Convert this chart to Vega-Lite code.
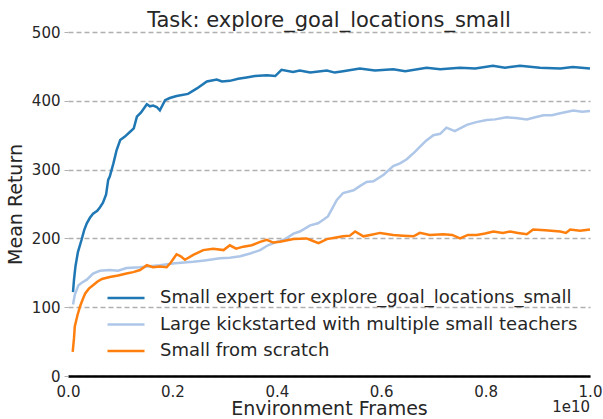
{
  "$schema": "https://vega.github.io/schema/vega-lite/v6.json",
  "width": 522,
  "height": 344,
  "autosize": {"type": "none"},
  "padding": {"left": 68, "top": 32, "right": 13, "bottom": 43},
  "title": {"text": "Task: explore_goal_locations_small", "fontSize": 21, "fontWeight": "normal", "color": "#262626", "baseline": "alphabetic", "offset": 5, "dy": 28, "anchor": "middle"},
  "config": {
    "font": "DejaVu Sans",
    "view": {"stroke": null},
    "axis": {"labelColor": "#262626", "titleColor": "#262626", "labelFontSize": 15, "titleFontSize": 19, "titleFontWeight": "normal"}
  },
  "layer": [
    {
      "data": {
        "values": [
          {"series": "Small expert for explore_goal_locations_small", "frames": 0.0096, "ret": 122},
          {"series": "Small expert for explore_goal_locations_small", "frames": 0.0115, "ret": 140},
          {"series": "Small expert for explore_goal_locations_small", "frames": 0.0144, "ret": 160},
          {"series": "Small expert for explore_goal_locations_small", "frames": 0.019, "ret": 180},
          {"series": "Small expert for explore_goal_locations_small", "frames": 0.026, "ret": 198},
          {"series": "Small expert for explore_goal_locations_small", "frames": 0.031, "ret": 212},
          {"series": "Small expert for explore_goal_locations_small", "frames": 0.036, "ret": 222},
          {"series": "Small expert for explore_goal_locations_small", "frames": 0.042, "ret": 230},
          {"series": "Small expert for explore_goal_locations_small", "frames": 0.048, "ret": 236},
          {"series": "Small expert for explore_goal_locations_small", "frames": 0.056, "ret": 240},
          {"series": "Small expert for explore_goal_locations_small", "frames": 0.061, "ret": 245},
          {"series": "Small expert for explore_goal_locations_small", "frames": 0.067, "ret": 252},
          {"series": "Small expert for explore_goal_locations_small", "frames": 0.073, "ret": 264},
          {"series": "Small expert for explore_goal_locations_small", "frames": 0.077, "ret": 285},
          {"series": "Small expert for explore_goal_locations_small", "frames": 0.080, "ret": 290},
          {"series": "Small expert for explore_goal_locations_small", "frames": 0.087, "ret": 309},
          {"series": "Small expert for explore_goal_locations_small", "frames": 0.093, "ret": 328},
          {"series": "Small expert for explore_goal_locations_small", "frames": 0.100, "ret": 343},
          {"series": "Small expert for explore_goal_locations_small", "frames": 0.109, "ret": 348},
          {"series": "Small expert for explore_goal_locations_small", "frames": 0.119, "ret": 355},
          {"series": "Small expert for explore_goal_locations_small", "frames": 0.126, "ret": 360},
          {"series": "Small expert for explore_goal_locations_small", "frames": 0.132, "ret": 377},
          {"series": "Small expert for explore_goal_locations_small", "frames": 0.140, "ret": 383},
          {"series": "Small expert for explore_goal_locations_small", "frames": 0.151, "ret": 395},
          {"series": "Small expert for explore_goal_locations_small", "frames": 0.157, "ret": 392},
          {"series": "Small expert for explore_goal_locations_small", "frames": 0.163, "ret": 393},
          {"series": "Small expert for explore_goal_locations_small", "frames": 0.170, "ret": 391},
          {"series": "Small expert for explore_goal_locations_small", "frames": 0.176, "ret": 386},
          {"series": "Small expert for explore_goal_locations_small", "frames": 0.186, "ret": 401},
          {"series": "Small expert for explore_goal_locations_small", "frames": 0.195, "ret": 404},
          {"series": "Small expert for explore_goal_locations_small", "frames": 0.208, "ret": 407},
          {"series": "Small expert for explore_goal_locations_small", "frames": 0.230, "ret": 410},
          {"series": "Small expert for explore_goal_locations_small", "frames": 0.247, "ret": 418},
          {"series": "Small expert for explore_goal_locations_small", "frames": 0.266, "ret": 428},
          {"series": "Small expert for explore_goal_locations_small", "frames": 0.285, "ret": 431},
          {"series": "Small expert for explore_goal_locations_small", "frames": 0.295, "ret": 428},
          {"series": "Small expert for explore_goal_locations_small", "frames": 0.310, "ret": 429},
          {"series": "Small expert for explore_goal_locations_small", "frames": 0.326, "ret": 432},
          {"series": "Small expert for explore_goal_locations_small", "frames": 0.342, "ret": 434},
          {"series": "Small expert for explore_goal_locations_small", "frames": 0.358, "ret": 436},
          {"series": "Small expert for explore_goal_locations_small", "frames": 0.381, "ret": 437},
          {"series": "Small expert for explore_goal_locations_small", "frames": 0.397, "ret": 436},
          {"series": "Small expert for explore_goal_locations_small", "frames": 0.409, "ret": 445},
          {"series": "Small expert for explore_goal_locations_small", "frames": 0.431, "ret": 442},
          {"series": "Small expert for explore_goal_locations_small", "frames": 0.444, "ret": 444},
          {"series": "Small expert for explore_goal_locations_small", "frames": 0.464, "ret": 441},
          {"series": "Small expert for explore_goal_locations_small", "frames": 0.496, "ret": 444},
          {"series": "Small expert for explore_goal_locations_small", "frames": 0.511, "ret": 441},
          {"series": "Small expert for explore_goal_locations_small", "frames": 0.527, "ret": 443},
          {"series": "Small expert for explore_goal_locations_small", "frames": 0.559, "ret": 447},
          {"series": "Small expert for explore_goal_locations_small", "frames": 0.588, "ret": 444},
          {"series": "Small expert for explore_goal_locations_small", "frames": 0.623, "ret": 446},
          {"series": "Small expert for explore_goal_locations_small", "frames": 0.646, "ret": 443},
          {"series": "Small expert for explore_goal_locations_small", "frames": 0.687, "ret": 448},
          {"series": "Small expert for explore_goal_locations_small", "frames": 0.713, "ret": 446},
          {"series": "Small expert for explore_goal_locations_small", "frames": 0.751, "ret": 448},
          {"series": "Small expert for explore_goal_locations_small", "frames": 0.780, "ret": 447},
          {"series": "Small expert for explore_goal_locations_small", "frames": 0.814, "ret": 451},
          {"series": "Small expert for explore_goal_locations_small", "frames": 0.837, "ret": 448},
          {"series": "Small expert for explore_goal_locations_small", "frames": 0.866, "ret": 451},
          {"series": "Small expert for explore_goal_locations_small", "frames": 0.904, "ret": 448},
          {"series": "Small expert for explore_goal_locations_small", "frames": 0.943, "ret": 447},
          {"series": "Small expert for explore_goal_locations_small", "frames": 0.967, "ret": 449},
          {"series": "Small expert for explore_goal_locations_small", "frames": 1.0, "ret": 447},
          {"series": "Large kickstarted with multiple small teachers", "frames": 0.0096, "ret": 104},
          {"series": "Large kickstarted with multiple small teachers", "frames": 0.013, "ret": 118},
          {"series": "Large kickstarted with multiple small teachers", "frames": 0.020, "ret": 132},
          {"series": "Large kickstarted with multiple small teachers", "frames": 0.027, "ret": 136},
          {"series": "Large kickstarted with multiple small teachers", "frames": 0.036, "ret": 140},
          {"series": "Large kickstarted with multiple small teachers", "frames": 0.048, "ret": 149},
          {"series": "Large kickstarted with multiple small teachers", "frames": 0.061, "ret": 153},
          {"series": "Large kickstarted with multiple small teachers", "frames": 0.080, "ret": 154},
          {"series": "Large kickstarted with multiple small teachers", "frames": 0.096, "ret": 153},
          {"series": "Large kickstarted with multiple small teachers", "frames": 0.112, "ret": 157},
          {"series": "Large kickstarted with multiple small teachers", "frames": 0.138, "ret": 158},
          {"series": "Large kickstarted with multiple small teachers", "frames": 0.176, "ret": 161},
          {"series": "Large kickstarted with multiple small teachers", "frames": 0.205, "ret": 164},
          {"series": "Large kickstarted with multiple small teachers", "frames": 0.240, "ret": 166},
          {"series": "Large kickstarted with multiple small teachers", "frames": 0.262, "ret": 168},
          {"series": "Large kickstarted with multiple small teachers", "frames": 0.291, "ret": 171},
          {"series": "Large kickstarted with multiple small teachers", "frames": 0.310, "ret": 172},
          {"series": "Large kickstarted with multiple small teachers", "frames": 0.330, "ret": 174},
          {"series": "Large kickstarted with multiple small teachers", "frames": 0.349, "ret": 178},
          {"series": "Large kickstarted with multiple small teachers", "frames": 0.368, "ret": 183},
          {"series": "Large kickstarted with multiple small teachers", "frames": 0.383, "ret": 190},
          {"series": "Large kickstarted with multiple small teachers", "frames": 0.400, "ret": 195},
          {"series": "Large kickstarted with multiple small teachers", "frames": 0.416, "ret": 199},
          {"series": "Large kickstarted with multiple small teachers", "frames": 0.432, "ret": 207},
          {"series": "Large kickstarted with multiple small teachers", "frames": 0.444, "ret": 210},
          {"series": "Large kickstarted with multiple small teachers", "frames": 0.464, "ret": 219},
          {"series": "Large kickstarted with multiple small teachers", "frames": 0.479, "ret": 222},
          {"series": "Large kickstarted with multiple small teachers", "frames": 0.489, "ret": 227},
          {"series": "Large kickstarted with multiple small teachers", "frames": 0.498, "ret": 232},
          {"series": "Large kickstarted with multiple small teachers", "frames": 0.515, "ret": 256},
          {"series": "Large kickstarted with multiple small teachers", "frames": 0.527, "ret": 266},
          {"series": "Large kickstarted with multiple small teachers", "frames": 0.547, "ret": 270},
          {"series": "Large kickstarted with multiple small teachers", "frames": 0.559, "ret": 276},
          {"series": "Large kickstarted with multiple small teachers", "frames": 0.572, "ret": 282},
          {"series": "Large kickstarted with multiple small teachers", "frames": 0.585, "ret": 283},
          {"series": "Large kickstarted with multiple small teachers", "frames": 0.604, "ret": 292},
          {"series": "Large kickstarted with multiple small teachers", "frames": 0.623, "ret": 305},
          {"series": "Large kickstarted with multiple small teachers", "frames": 0.636, "ret": 309},
          {"series": "Large kickstarted with multiple small teachers", "frames": 0.649, "ret": 315},
          {"series": "Large kickstarted with multiple small teachers", "frames": 0.665, "ret": 326},
          {"series": "Large kickstarted with multiple small teachers", "frames": 0.674, "ret": 333},
          {"series": "Large kickstarted with multiple small teachers", "frames": 0.686, "ret": 342},
          {"series": "Large kickstarted with multiple small teachers", "frames": 0.700, "ret": 350},
          {"series": "Large kickstarted with multiple small teachers", "frames": 0.713, "ret": 352},
          {"series": "Large kickstarted with multiple small teachers", "frames": 0.725, "ret": 361},
          {"series": "Large kickstarted with multiple small teachers", "frames": 0.741, "ret": 356},
          {"series": "Large kickstarted with multiple small teachers", "frames": 0.764, "ret": 365},
          {"series": "Large kickstarted with multiple small teachers", "frames": 0.782, "ret": 369},
          {"series": "Large kickstarted with multiple small teachers", "frames": 0.802, "ret": 372},
          {"series": "Large kickstarted with multiple small teachers", "frames": 0.818, "ret": 373},
          {"series": "Large kickstarted with multiple small teachers", "frames": 0.840, "ret": 376},
          {"series": "Large kickstarted with multiple small teachers", "frames": 0.858, "ret": 375},
          {"series": "Large kickstarted with multiple small teachers", "frames": 0.879, "ret": 373},
          {"series": "Large kickstarted with multiple small teachers", "frames": 0.895, "ret": 376},
          {"series": "Large kickstarted with multiple small teachers", "frames": 0.911, "ret": 379},
          {"series": "Large kickstarted with multiple small teachers", "frames": 0.927, "ret": 379},
          {"series": "Large kickstarted with multiple small teachers", "frames": 0.943, "ret": 382},
          {"series": "Large kickstarted with multiple small teachers", "frames": 0.968, "ret": 386},
          {"series": "Large kickstarted with multiple small teachers", "frames": 0.985, "ret": 384},
          {"series": "Large kickstarted with multiple small teachers", "frames": 1.0, "ret": 385},
          {"series": "Small from scratch", "frames": 0.009, "ret": 35},
          {"series": "Small from scratch", "frames": 0.0115, "ret": 55},
          {"series": "Small from scratch", "frames": 0.013, "ret": 72},
          {"series": "Small from scratch", "frames": 0.018, "ret": 88},
          {"series": "Small from scratch", "frames": 0.023, "ret": 101},
          {"series": "Small from scratch", "frames": 0.029, "ret": 113},
          {"series": "Small from scratch", "frames": 0.033, "ret": 120},
          {"series": "Small from scratch", "frames": 0.040, "ret": 127},
          {"series": "Small from scratch", "frames": 0.048, "ret": 132},
          {"series": "Small from scratch", "frames": 0.056, "ret": 137},
          {"series": "Small from scratch", "frames": 0.065, "ret": 141},
          {"series": "Small from scratch", "frames": 0.080, "ret": 144},
          {"series": "Small from scratch", "frames": 0.096, "ret": 146},
          {"series": "Small from scratch", "frames": 0.112, "ret": 149},
          {"series": "Small from scratch", "frames": 0.125, "ret": 151},
          {"series": "Small from scratch", "frames": 0.138, "ret": 154},
          {"series": "Small from scratch", "frames": 0.151, "ret": 161},
          {"series": "Small from scratch", "frames": 0.163, "ret": 158},
          {"series": "Small from scratch", "frames": 0.176, "ret": 159},
          {"series": "Small from scratch", "frames": 0.189, "ret": 158},
          {"series": "Small from scratch", "frames": 0.197, "ret": 165},
          {"series": "Small from scratch", "frames": 0.208, "ret": 177},
          {"series": "Small from scratch", "frames": 0.216, "ret": 174},
          {"series": "Small from scratch", "frames": 0.224, "ret": 169},
          {"series": "Small from scratch", "frames": 0.240, "ret": 176},
          {"series": "Small from scratch", "frames": 0.259, "ret": 183},
          {"series": "Small from scratch", "frames": 0.278, "ret": 185},
          {"series": "Small from scratch", "frames": 0.298, "ret": 183},
          {"series": "Small from scratch", "frames": 0.310, "ret": 190},
          {"series": "Small from scratch", "frames": 0.322, "ret": 185},
          {"series": "Small from scratch", "frames": 0.336, "ret": 188},
          {"series": "Small from scratch", "frames": 0.352, "ret": 190},
          {"series": "Small from scratch", "frames": 0.368, "ret": 195},
          {"series": "Small from scratch", "frames": 0.381, "ret": 198},
          {"series": "Small from scratch", "frames": 0.393, "ret": 194},
          {"series": "Small from scratch", "frames": 0.406, "ret": 195},
          {"series": "Small from scratch", "frames": 0.432, "ret": 199},
          {"series": "Small from scratch", "frames": 0.457, "ret": 200},
          {"series": "Small from scratch", "frames": 0.467, "ret": 197},
          {"series": "Small from scratch", "frames": 0.480, "ret": 193},
          {"series": "Small from scratch", "frames": 0.496, "ret": 199},
          {"series": "Small from scratch", "frames": 0.511, "ret": 201},
          {"series": "Small from scratch", "frames": 0.527, "ret": 203},
          {"series": "Small from scratch", "frames": 0.540, "ret": 204},
          {"series": "Small from scratch", "frames": 0.550, "ret": 210},
          {"series": "Small from scratch", "frames": 0.566, "ret": 203},
          {"series": "Small from scratch", "frames": 0.579, "ret": 205},
          {"series": "Small from scratch", "frames": 0.598, "ret": 208},
          {"series": "Small from scratch", "frames": 0.623, "ret": 205},
          {"series": "Small from scratch", "frames": 0.642, "ret": 204},
          {"series": "Small from scratch", "frames": 0.662, "ret": 203},
          {"series": "Small from scratch", "frames": 0.674, "ret": 208},
          {"series": "Small from scratch", "frames": 0.693, "ret": 205},
          {"series": "Small from scratch", "frames": 0.719, "ret": 206},
          {"series": "Small from scratch", "frames": 0.736, "ret": 205},
          {"series": "Small from scratch", "frames": 0.751, "ret": 200},
          {"series": "Small from scratch", "frames": 0.766, "ret": 205},
          {"series": "Small from scratch", "frames": 0.783, "ret": 205},
          {"series": "Small from scratch", "frames": 0.799, "ret": 207},
          {"series": "Small from scratch", "frames": 0.815, "ret": 210},
          {"series": "Small from scratch", "frames": 0.833, "ret": 208},
          {"series": "Small from scratch", "frames": 0.847, "ret": 210},
          {"series": "Small from scratch", "frames": 0.862, "ret": 208},
          {"series": "Small from scratch", "frames": 0.879, "ret": 206},
          {"series": "Small from scratch", "frames": 0.891, "ret": 213},
          {"series": "Small from scratch", "frames": 0.914, "ret": 212},
          {"series": "Small from scratch", "frames": 0.943, "ret": 210},
          {"series": "Small from scratch", "frames": 0.954, "ret": 208},
          {"series": "Small from scratch", "frames": 0.962, "ret": 213},
          {"series": "Small from scratch", "frames": 0.981, "ret": 211},
          {"series": "Small from scratch", "frames": 1.0, "ret": 213}
        ]
      },
      "mark": {"type": "line", "strokeWidth": 2.5},
      "encoding": {
        "x": {
          "field": "frames", "type": "quantitative",
          "scale": {"domain": [0, 1], "nice": false, "zero": false},
          "axis": {"title": "Environment Frames", "values": [0, 0.2, 0.4, 0.6, 0.8, 1.0], "format": ".1f", "grid": false, "ticks": false, "domainColor": "#000000", "domainWidth": 2.5, "labelPadding": 8, "titlePadding": 0, "labelFlush": false}
        },
        "y": {
          "field": "ret", "type": "quantitative",
          "scale": {"domain": [0, 500], "nice": false},
          "axis": {"title": "Mean Return", "values": [0, 100, 200, 300, 400, 500], "domain": false, "grid": true, "gridColor": "#b0b0b0", "gridDash": [5, 3], "gridWidth": 1.3, "tickColor": "#b0b0b0", "tickSize": 4, "labelPadding": 4, "titlePadding": 6}
        },
        "color": {
          "field": "series", "type": "nominal",
          "scale": {"domain": ["Small expert for explore_goal_locations_small", "Large kickstarted with multiple small teachers", "Small from scratch"], "range": ["#1f77b4", "#aec7e8", "#ff7f0e"]},
          "legend": {"title": null, "orient": "none", "legendX": 38, "legendY": 256, "padding": 0, "symbolType": "stroke", "symbolSize": 1369, "symbolStrokeWidth": 2.5, "clipHeight": 20, "rowPadding": 6.5, "labelFontSize": 18, "labelColor": "#262626", "labelOffset": 14, "labelLimit": 600, "symbolOffset": 0}
        },
        "order": {"field": "frames", "type": "quantitative"}
      }
    },
    {
      "data": {"values": [{"frames": 1.0, "ret": 0, "label": "1e10"}]},
      "mark": {"type": "text", "align": "right", "baseline": "middle", "dy": 31, "fontSize": 15, "color": "#262626"},
      "encoding": {
        "x": {"field": "frames", "type": "quantitative"},
        "y": {"field": "ret", "type": "quantitative"},
        "text": {"field": "label"}
      }
    }
  ]
}
